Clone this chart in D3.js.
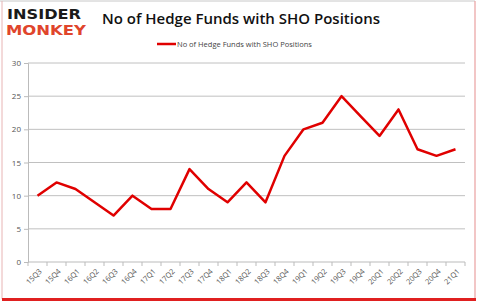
<!DOCTYPE html>
<html>
<head>
<meta charset="utf-8">
<script src="https://cdn.jsdelivr.net/npm/d3@7"></script>
<style>
  body { margin: 0; background: #fff; }
  svg { display: block; font-family: 'Open Sans', 'Liberation Sans', sans-serif; }
</style>
</head>
<body>
<div id="app"></div>
<script>
'use strict'

const quarters = ['15Q3', '15Q4', '16Q1', '16Q2', '16Q3', '16Q4', '17Q1', '17Q2', '17Q3', '17Q4',
  '18Q1', '18Q2', '18Q3', '18Q4', '19Q1', '19Q2', '19Q3', '19Q4', '20Q1', '20Q2', '20Q3', '20Q4', '21Q1']
const funds = [10, 12, 11, 9, 7, 10, 8, 8, 14, 11, 9, 12, 9, 16, 20, 21, 25, 22, 19, 23, 17, 16, 17]
const yTicks = [0, 5, 10, 15, 20, 25, 30]
const seriesName = 'No of Hedge Funds with SHO Positions'

const width = 480
const height = 305
const margin = { top: 63, right: 15, bottom: 43, left: 28 }

const svg = d3.select('#app').append('svg')
  .attr('width', width)
  .attr('height', height)

// frame
svg.append('line').attr('x1', 0).attr('x2', 475).attr('y1', 1).attr('y2', 1)
  .style('stroke', '#c8c8c8').style('stroke-width', 1)
svg.append('line').attr('x1', 2).attr('x2', 2).attr('y1', 1).attr('y2', 299)
  .style('stroke', '#e8b4b4').style('stroke-width', 1)
svg.append('line').attr('x1', 475).attr('x2', 475).attr('y1', 1).attr('y2', 299)
  .style('stroke', '#eaa0a0').style('stroke-width', 1.2)
svg.append('line').attr('x1', 2).attr('x2', 476).attr('y1', 299.5).attr('y2', 299.5)
  .style('stroke', '#e02020').style('stroke-width', 3)

// logo
svg.append('text').attr('x', 7).attr('y', 19).text('INSIDER')
  .attr('textLength', 74).attr('lengthAdjust', 'spacingAndGlyphs')
  .style('font-family', 'DejaVu Sans').style('font-weight', 900).style('font-size', '14px')
  .style('fill', '#1a1a1a')
svg.append('text').attr('x', 6).attr('y', 35).text('MONKEY')
  .attr('textLength', 80).attr('lengthAdjust', 'spacingAndGlyphs')
  .style('font-family', 'DejaVu Sans').style('font-weight', 900).style('font-size', '14px')
  .style('fill', '#e0452c')

// title
svg.append('text').attr('x', 241).attr('y', 24).attr('text-anchor', 'middle')
  .text(seriesName)
  .style('font-family', 'Open Sans').style('font-weight', 600).style('font-size', '15px')
  .style('fill', '#111')

// legend
svg.append('line').attr('x1', 157).attr('x2', 176).attr('y1', 44).attr('y2', 44)
  .style('stroke', '#e00000').style('stroke-width', 2.5)
svg.append('text').attr('x', 177).attr('y', 46.5).text(seriesName)
  .style('font-size', '7.5px').style('fill', '#444')

const x = d3.scaleBand().domain(quarters)
  .range([margin.left, width - margin.right])

const y = d3.scaleLinear().domain([0, 30])
  .range([height - margin.bottom, margin.top])

// gridlines
svg.append('g').selectAll('line')
  .data(yTicks.filter(d => d > 0))
  .enter().append('line')
  .attr('x1', margin.left).attr('x2', width - margin.right)
  .attr('y1', d => y(d)).attr('y2', d => y(d))
  .style('stroke', '#c0c0c0').style('stroke-width', 1)

// y axis
const yAxis = svg.append('g')
  .attr('transform', `translate(${margin.left},0)`)
  .call(d3.axisLeft(y).tickValues(yTicks).tickSize(4).tickPadding(3))
yAxis.select('.domain').style('stroke', '#bbb')
yAxis.selectAll('line').style('stroke', '#bbb')
yAxis.selectAll('text').style('font-size', '8px').style('fill', '#555')
  .style('font-family', 'Open Sans')

// x axis, ticks on category boundaries
const xg = svg.append('g')
  .attr('transform', `translate(0,${y(0)})`)
xg.append('line').attr('x1', margin.left).attr('x2', width - margin.right)
  .style('stroke', '#bbb')
xg.selectAll('.tk').data(quarters.concat(['end']))
  .enter().append('line')
  .attr('x1', (d, i) => margin.left + i * x.step())
  .attr('x2', (d, i) => margin.left + i * x.step())
  .attr('y1', 0).attr('y2', 4)
  .style('stroke', '#bbb')
xg.selectAll('text').data(quarters)
  .enter().append('text')
  .attr('transform', d => `translate(${x(d) + x.bandwidth() / 2 + 3},8) rotate(-45)`)
  .attr('text-anchor', 'end')
  .attr('dy', '0.35em')
  .text(d => d)
  .style('font-size', '7.5px').style('fill', '#555')

// series
const line = d3.line()
  .x((d, i) => x(quarters[i]) + x.bandwidth() / 2)
  .y(d => y(d))

svg.append('path')
  .datum(funds)
  .attr('d', line)
  .style('fill', 'none')
  .style('stroke', '#e00000')
  .style('stroke-width', 2.5)
  .style('stroke-linejoin', 'round')
</script>
</body>
</html>
